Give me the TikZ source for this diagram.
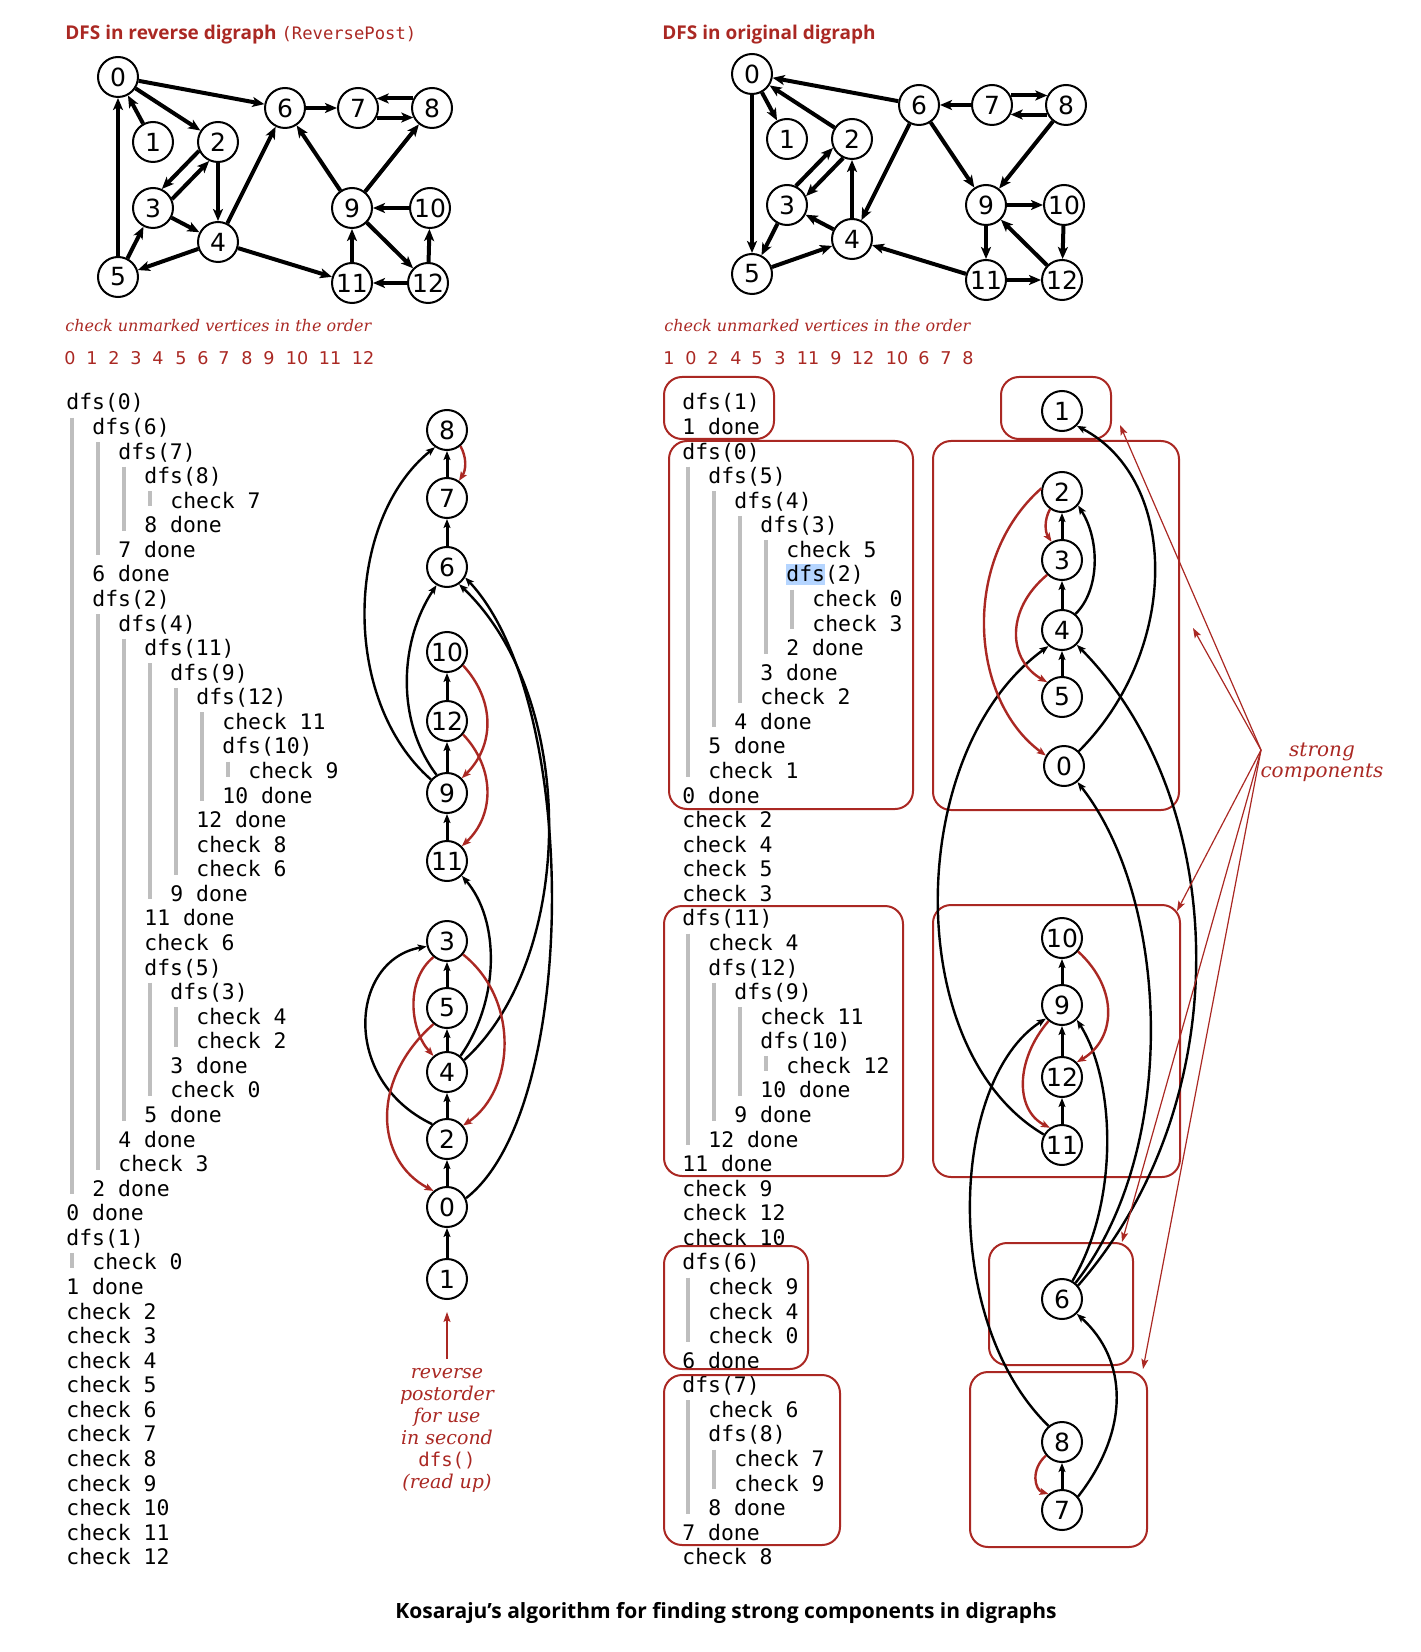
\documentclass[tikz,border=0pt]{standalone}
\usepackage{fontspec}
\setmonofont{DejaVu Sans Mono}
\newfontfamily\vtxfont{DejaVu Sans}
\newfontfamily\headfont{Open Sans}
\newfontfamily\notefont{DejaVu Serif}
\usetikzlibrary{arrows.meta}

\definecolor{bookred}{RGB}{170,40,35}
\definecolor{barGray}{RGB}{190,190,190}
\definecolor{selblue}{RGB}{181,213,255}

\tikzset{
  vtx/.style={circle,draw,line width=1pt,minimum size=20pt,inner sep=0pt,fill=white,
    font=\vtxfont\fontsize{12.5}{12.5}\selectfont},
  gedge/.style={line width=2pt},
  fwd/.style={gedge,-{Stealth[length=6pt,width=5pt,inset=1.5pt]}},
  bwd/.style={gedge,{Stealth[length=6pt,width=5pt,inset=1.5pt]}-},
  tree/.style={line width=1.5pt,-{Stealth[length=4.5pt,width=3.5pt,inset=1pt]}},
  arc/.style={line width=1.2pt,-{Stealth[length=4.5pt,width=3.5pt,inset=1pt]}},
  back/.style={arc,draw=bookred},
  trace/.style={anchor=base west,inner sep=0pt,font=\ttfamily\fontsize{10.7}{12}\selectfont},
  bar/.style={draw=barGray,line width=1.6pt},
  scbox/.style={draw=bookred,line width=1pt,rounded corners=9pt},
  pointer/.style={draw=bookred,line width=0.6pt,-{Stealth[length=5pt,width=3.5pt,inset=1pt]}},
  note/.style={text=bookred,font=\notefont\itshape\fontsize{8}{10.5}\selectfont},
  head/.style={anchor=base west,inner sep=0pt,text=bookred,font=\headfont\bfseries\fontsize{9.5}{11}\selectfont},
  order/.style={anchor=base,inner sep=0pt,text=bookred,font=\vtxfont\fontsize{8.8}{10}\selectfont},
}

\begin{document}
\begin{tikzpicture}[x=0.5pt,y=-0.5pt]
\useasboundingbox (0,0) rectangle (1420,1652);

% headings
\node[head] (lefthead) at (65,40) {DFS in reverse digraph {\mdseries\ttfamily\fontsize{8.6}{11}\selectfont(ReversePost)}};
\node[head] (righthead) at (662,40) {DFS in original digraph};

% the digraph, reversed on the left, original on the right
\foreach \g/\dx/\dy/\dir in {a/0/0/fwd, b/634/-3/bwd} {
  \begin{scope}[shift={(\dx,\dy)}]
    \foreach \v/\x/\y in {0/118/77, 1/153/142, 2/218/142, 3/153/208, 4/218/242,
        5/118/277, 6/285/108, 7/358/108, 8/432/108, 9/352/208, 10/430/208,
        11/352/283, 12/428/283}
      \node[vtx] (\g\v) at (\x,\y) {\v};
    \foreach \s/\t in {0/6, 0/2, 1/0, 2/4, 3/4, 4/6, 4/5, 5/3, 5/0, 4/11, 6/7,
        9/6, 9/8, 10/9, 9/12, 11/9, 12/11, 12/10}
      \draw[\dir] (\g\s) -- (\g\t);
    \draw[\dir] (\g2.205) -- (\g3.65);
    \draw[\dir] (\g3.25) -- (\g2.245);
    \draw[\dir] (\g8.153) -- (\g7.27);
    \draw[\dir] (\g7.-27) -- (\g8.-153);
  \end{scope}
}

% order of the checks
\node[note,anchor=base west,inner sep=0pt] (leftorder) at (65,332) {check unmarked vertices in the order};
\node[note,anchor=base west,inner sep=0pt] (rightorder) at (664,332) {check unmarked vertices in the order};
\foreach \v/\x [count=\i] in {0/70, 1/92, 2/114, 3/136, 4/158, 5/181, 6/203,
    7/224, 8/247, 9/269, 10/297, 11/330, 12/363}
  \node[order] (lo\i) at (\x,365) {\v};
\foreach \v/\x [count=\i] in {1/669, 0/691, 2/713, 4/736, 5/757, 3/780, 11/808,
    9/836, 12/863, 10/897, 6/924, 7/946, 8/968}
  \node[order] (ro\i) at (\x,365) {\v};

% trace of the first dfs()
\foreach \ind/\txt [count=\k] in {0/dfs(0), 1/dfs(6), 2/dfs(7), 3/dfs(8), 4/check 7,
    3/8 done, 2/7 done, 1/6 done, 1/dfs(2), 2/dfs(4), 3/dfs(11), 4/dfs(9),
    5/dfs(12), 6/check 11, 6/dfs(10), 7/check 9, 6/10 done, 5/12 done,
    5/check 8, 5/check 6, 4/9 done, 3/11 done, 3/check 6, 3/dfs(5), 4/dfs(3),
    5/check 4, 5/check 2, 4/3 done, 4/check 0, 3/5 done, 2/4 done, 2/check 3,
    1/2 done, 0/0 done, 0/dfs(1), 1/check 0, 0/1 done, 0/check 2, 0/check 3,
    0/check 4, 0/check 5, 0/check 6, 0/check 7, 0/check 8, 0/check 9,
    0/check 10, 0/check 11, 0/check 12}
  \node[trace] (L\k) at ({66+\ind*26},{410+(\k-1)*24.57}) {\txt};
\foreach \ind/\a/\b in {0/2/33, 1/3/7, 2/4/6, 3/5/5, 1/10/32, 2/11/30, 3/12/21,
    4/13/20, 5/14/17, 6/16/16, 3/25/29, 4/26/27, 0/36/36}
  \draw[bar] ({72+\ind*26},{402+(\a-1)*24.57-9}) -- ({72+\ind*26},{402+(\b-1)*24.57+6});

% trace of the second dfs()
\fill[selblue] (786,564) rectangle (825,585);
\foreach \ind/\txt [count=\k] in {0/dfs(1), 0/1 done, 0/dfs(0), 1/dfs(5), 2/dfs(4),
    3/dfs(3), 4/check 5, 4/dfs(2), 5/check 0, 5/check 3, 4/2 done, 3/3 done,
    3/check 2, 2/4 done, 1/5 done, 1/check 1, 0/0 done, 0/check 2, 0/check 4,
    0/check 5, 0/check 3, 0/dfs(11), 1/check 4, 1/dfs(12), 2/dfs(9),
    3/check 11, 3/dfs(10), 4/check 12, 3/10 done, 2/9 done, 1/12 done,
    0/11 done, 0/check 9, 0/check 12, 0/check 10, 0/dfs(6), 1/check 9,
    1/check 4, 1/check 0, 0/6 done, 0/dfs(7), 1/check 6, 1/dfs(8), 2/check 7,
    2/check 9, 1/8 done, 0/7 done, 0/check 8}
  \node[trace] (R\k) at ({682+\ind*26},{410+(\k-1)*24.57}) {\txt};
\foreach \ind/\a/\b in {0/4/16, 1/5/14, 2/6/13, 3/7/11, 4/9/10, 0/23/31,
    1/25/30, 2/26/29, 3/28/28, 0/37/39, 0/42/46, 1/44/45}
  \draw[bar] ({688+\ind*26},{402+(\a-1)*24.57-9}) -- ({688+\ind*26},{402+(\b-1)*24.57+6});

% strong components around the trace and the second chain
\draw[scbox] (664,377) rectangle (774,439);
\draw[scbox] (669,441) rectangle (913,809);
\draw[scbox] (664,906) rectangle (903,1176);
\draw[scbox] (664,1246) rectangle (808,1369);
\draw[scbox] (664,1375) rectangle (840,1545);
\draw[scbox] (1001,377) rectangle (1111,439);
\draw[scbox] (933,441) rectangle (1179,810);
\draw[scbox] (933,905) rectangle (1180,1177);
\draw[scbox] (989,1243) rectangle (1133,1365);
\draw[scbox] (970,1372) rectangle (1147,1547);

% reverse postorder chain
\foreach \v/\y in {8/430, 7/498, 6/567, 10/652, 12/721, 9/793, 11/861, 3/941,
    5/1008, 4/1072, 2/1139, 0/1207, 1/1279}
  \node[vtx] (c\v) at (447,\y) {\v};
\foreach \s/\t in {1/0, 0/2, 2/4, 4/5, 5/3, 11/9, 9/12, 12/10, 6/7, 7/8}
  \draw[tree] (c\s) -- (c\t);
\draw[arc] (c9.140) .. controls (340,700) and (345,520) .. (c8.235);
\draw[arc] (c9.120) .. controls (395,720) and (400,640) .. (c6.240);
\draw[arc] (c2.135) .. controls (340,1080) and (350,960) .. (c3.195);
\draw[arc] (c4.50) .. controls (500,1000) and (500,920) .. (c11.-45);
\draw[arc] (c4.35) .. controls (575,960) and (580,700) .. (c6.-55);
\draw[arc] (c0.25) .. controls (580,1110) and (580,700) .. (c6.-30);
\draw[back] (c8.-50) .. controls (467,458) and (466,470) .. (c7.55);
\draw[back] (c10.-40) .. controls (495,700) and (495,745) .. (c9.45);
\draw[back] (c12.-40) .. controls (495,768) and (495,815) .. (c11.45);
\draw[back] (c3.-130) .. controls (405,980) and (410,1030) .. (c4.130);
\draw[back] (c3.-40) .. controls (520,1000) and (515,1090) .. (c2.40);
\draw[back] (c5.-130) .. controls (370,1080) and (375,1160) .. (c0.130);

\coordinate (rpfoot) at (447,1359);
\draw[pointer] (rpfoot) -- ([yshift=-6pt]c1.south);
\node[note,align=center,anchor=north,inner sep=0pt,font=\notefont\itshape\fontsize{9.5}{11}\selectfont]
  (rpnote) at (447,1368) {reverse\\postorder\\for use\\in second\\{\upshape\ttfamily dfs()}\\(read up)};

% chain of the second dfs()
\foreach \v/\x/\y in {1/1062/411, 2/1062/492, 3/1062/560, 4/1062/630, 5/1062/697,
    0/1064/766, 10/1062/938, 9/1062/1005, 12/1062/1077, 11/1062/1145,
    6/1062/1299, 8/1062/1442, 7/1062/1510}
  \node[vtx] (r\v) at (\x,\y) {\v};
\foreach \s/\t in {3/2, 4/3, 5/4, 9/10, 12/9, 11/12, 7/8}
  \draw[tree] (r\s) -- (r\t);
\draw[arc] (r4.50) .. controls (1100,590) and (1100,540) .. (r2.-40);
\draw[arc] (r0.45) .. controls (1180,650) and (1180,480) .. (r1.-45);
\draw[arc] (r11.150) .. controls (900,1050) and (905,750) .. (r4.-130);
\draw[arc] (r8.130) .. controls (940,1320) and (950,1080) .. (r9.-140);
\draw[arc] (r7.40) .. controls (1130,1430) and (1128,1360) .. (r6.-45);
\draw[arc] (r6.60) .. controls (1120,1200) and (1115,1080) .. (r9.-45);
\draw[arc] (r6.50) .. controls (1180,1150) and (1170,900) .. (r0.-50);
\draw[arc] (r6.40) .. controls (1240,1100) and (1230,800) .. (r4.-45);
\draw[back] (r2.-125) .. controls (1044,520) and (1045,532) .. (r3.120);
\draw[back] (r3.-135) .. controls (1005,610) and (1008,660) .. (r5.135);
\draw[back] (r2.170) .. controls (960,560) and (970,700) .. (r0.150);
\draw[back] (r10.-40) .. controls (1120,990) and (1115,1040) .. (r12.45);
\draw[back] (r9.-130) .. controls (1015,1060) and (1015,1110) .. (r11.125);
\draw[back] (r8.-140) .. controls (1030,1470) and (1035,1490) .. (r7.130);

% pointers to the strong components
\coordinate (scfoot) at (1261,750);
\node[note,align=center,inner sep=0pt,font=\notefont\itshape\fontsize{10}{10.5}\selectfont]
  (sclabel) at (1322,762) {strong\\components};
\foreach \x/\y in {1120/425, 1193/628, 1177/911, 1122/1242, 1143/1369}
  \draw[pointer] (scfoot) -- (\x,\y);

\node[anchor=base,inner sep=0pt,font=\headfont\bfseries\fontsize{10.5}{12}\selectfont]
  (caption) at (726,1618) {Kosaraju’s algorithm for finding strong components in digraphs};
\end{tikzpicture}
\end{document}
